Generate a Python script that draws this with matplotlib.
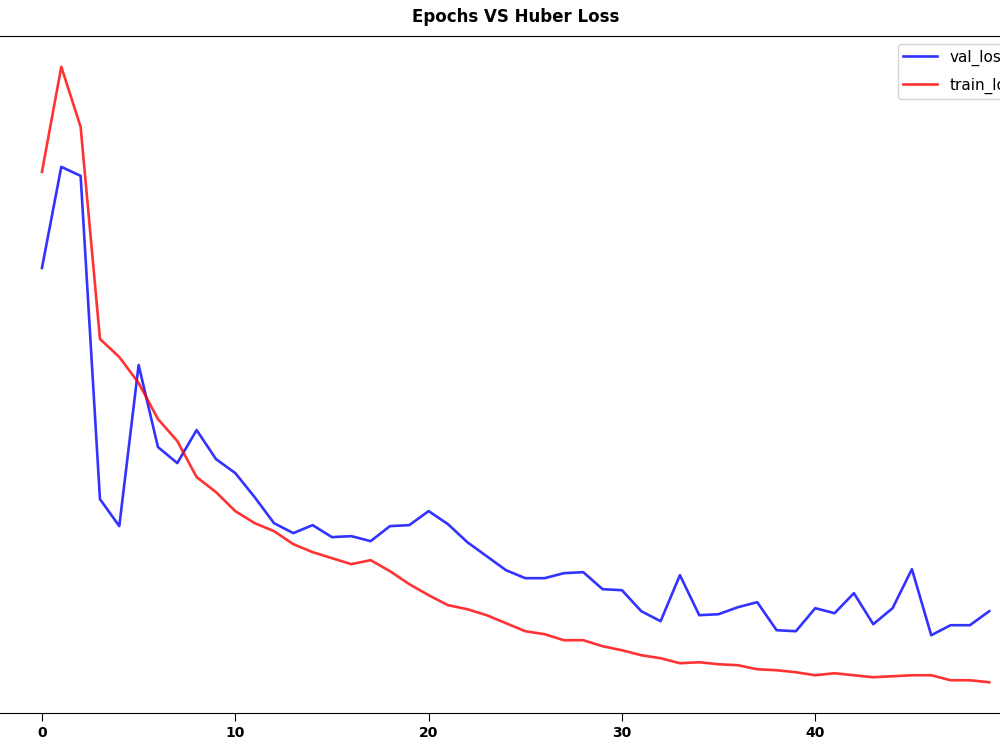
import matplotlib
matplotlib.use("Agg")
import matplotlib.pyplot as plt
import numpy as np

epochs = list(range(50))
val_loss = [0.0482, 0.0583, 0.0574, 0.0251, 0.0224, 0.0385, 0.0303, 0.0287, 0.0320, 0.0291,
            0.0277, 0.0253, 0.0227, 0.0217, 0.0225, 0.0213, 0.0214, 0.0209, 0.0224, 0.0225,
            0.0239, 0.0226, 0.0208, 0.0194, 0.0180, 0.0172, 0.0172, 0.0177, 0.0178, 0.0161,
            0.0160, 0.0139, 0.0129, 0.0175, 0.0135, 0.0136, 0.0143, 0.0148, 0.0120, 0.0119,
            0.0142, 0.0137, 0.0157, 0.0126, 0.0142, 0.0181, 0.0115, 0.0125, 0.0125, 0.0139]
train_loss = [0.0578, 0.0683, 0.0623, 0.0411, 0.0393, 0.0367, 0.0331, 0.0309, 0.0273, 0.0258,
              0.0239, 0.0227, 0.0219, 0.0206, 0.0198, 0.0192, 0.0186, 0.0190, 0.0179, 0.0166,
              0.0155, 0.0145, 0.0141, 0.0135, 0.0127, 0.0119, 0.0116, 0.0110, 0.0110, 0.0104,
              0.0100, 0.0095, 0.0092, 0.0087, 0.0088, 0.0086, 0.0085, 0.0081, 0.0080, 0.0078,
              0.0075, 0.0077, 0.0075, 0.0073, 0.0074, 0.0075, 0.0075, 0.0070, 0.0070, 0.0068]

fig = plt.figure(figsize=(10, 7.5), dpi=100)
ax = fig.add_axes([-0.0054, 0.0493, 1.042, 0.9027])

ax.plot(epochs, val_loss, color="blue", alpha=0.8, lw=1.9, label="val_loss")
ax.plot(epochs, train_loss, color="red", alpha=0.8, lw=1.9, label="train_loss")

ax.set_title("Epochs VS Huber Loss", fontsize=12, family="DejaVu Sans",
             fontweight="semibold", pad=10)
ax.set_xticks([0, 10, 20, 30, 40])
ax.tick_params(axis="x", length=6, labelsize=10)
for lbl in ax.get_xticklabels():
    lbl.set_fontweight("semibold")
ax.set_yticks([])
ax.legend(loc="upper left", fontsize=11, bbox_to_anchor=(0.898, 1 - 44 / 750),
          bbox_transform=fig.transFigure, borderaxespad=0, handlelength=2.2,
          labelspacing=0.8, borderpad=0.35)

fig.savefig("out.png", dpi=100)
